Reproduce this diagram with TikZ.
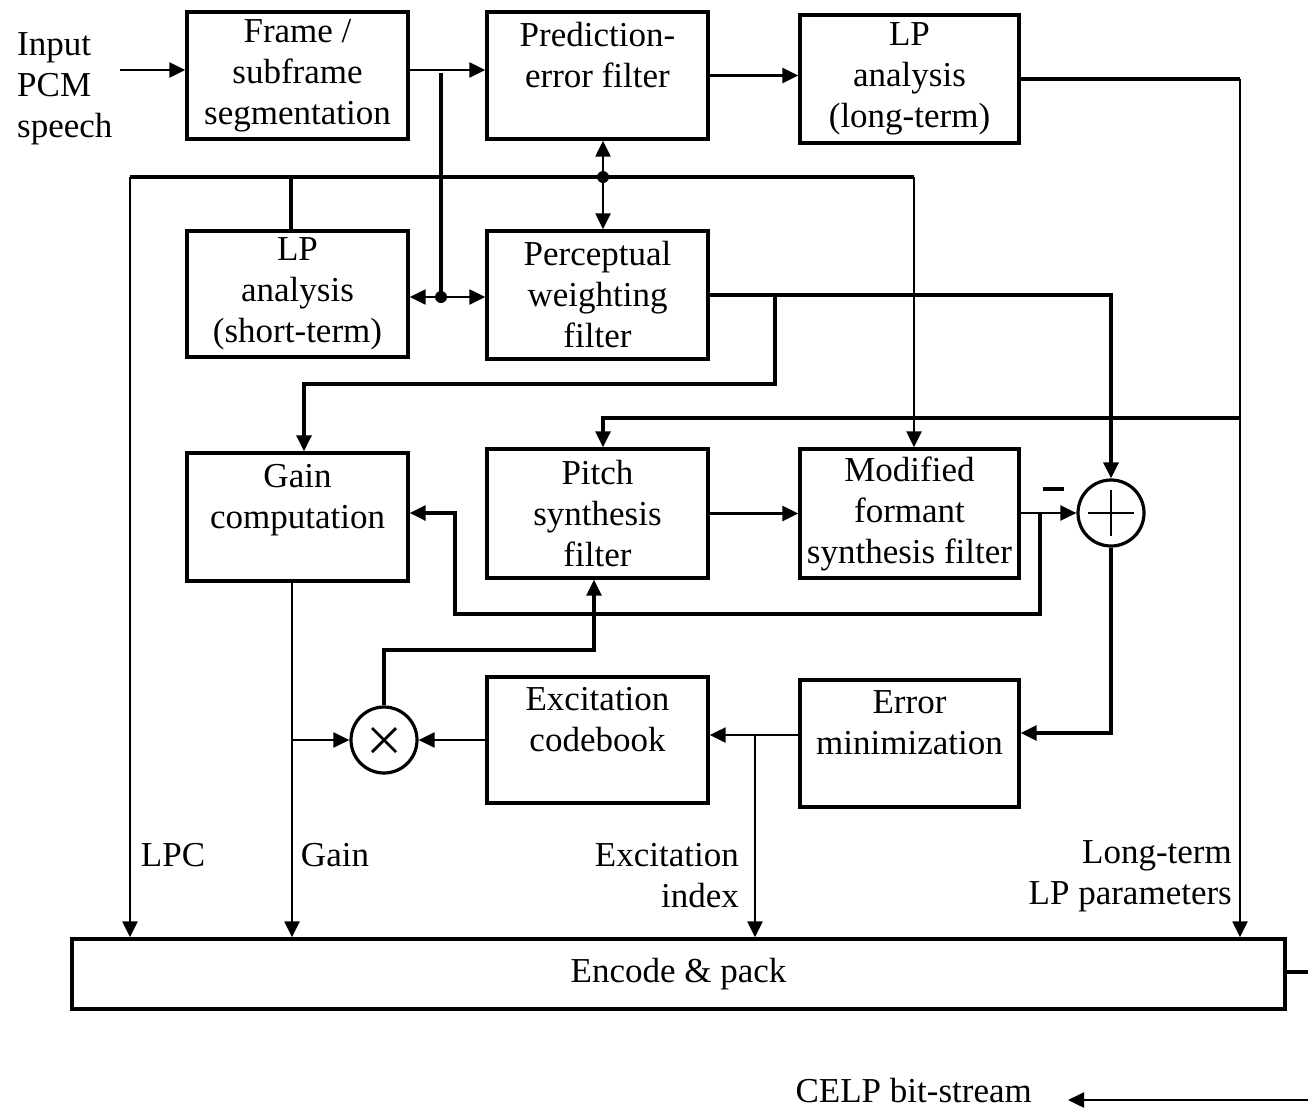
\documentclass[tikz,border=0pt]{standalone}
\usepackage{fontspec}
\setmainfont{Liberation Serif}
\usetikzlibrary{arrows.meta,calc}
\begin{document}
\begin{tikzpicture}[x=1pt,y=-1pt,
  blk/.style={draw,line width=3.4pt,inner sep=0pt,align=center,font=\fontsize{35}{41}\selectfont},
  txt/.style={inner sep=0pt,font=\fontsize{35}{41}\selectfont},
  ln/.style={line width=3.2pt},
  thinln/.style={line width=2.4pt},
  arr/.style={ln,-{Triangle[length=16pt,width=15pt]}},
  tarr/.style={thinln,-{Triangle[length=16pt,width=15pt]}},
  darr/.style={thinln,{Triangle[length=16pt,width=15pt]}-{Triangle[length=16pt,width=15pt]}},
  sumc/.style={draw,circle,line width=3.2pt,minimum size=66pt,inner sep=0pt},
  dot/.style={circle,fill,inner sep=0pt,minimum size=12pt}
]
\useasboundingbox (0,0) rectangle (1308,1109);

% blocks
\node[blk,minimum width=221pt,minimum height=127pt] (frame) at (297.5,75.5) {Frame /\\subframe\\segmentation};
\node[blk,minimum width=221pt,minimum height=127pt] (pef) at (597.5,75.5) {Prediction-\\error filter\\\mbox{}};
\node[blk,minimum width=219pt,minimum height=128pt] (lpl) at (909.5,79) {LP\\analysis\\(long-term)};
\node[blk,minimum width=221pt,minimum height=126pt] (lps) at (297.5,294) {LP\\analysis\\(short-term)};
\node[blk,minimum width=221pt,minimum height=128pt] (pwf) at (597.5,295) {Perceptual\\weighting\\filter};
\node[blk,minimum width=221pt,minimum height=128pt] (gain) at (297.5,517) {Gain\\computation\\\mbox{}};
\node[blk,minimum width=221pt,minimum height=129pt] (pitch) at (597.5,513.5) {Pitch\\synthesis\\filter};
\node[blk,minimum width=219pt,minimum height=129pt] (mfs) at (909.5,513.5) {Modified\\formant\\synthesis filter};
\node[blk,minimum width=221pt,minimum height=126pt] (exc) at (597.5,740) {Excitation\\codebook\\\mbox{}};
\node[blk,minimum width=219pt,minimum height=127pt] (err) at (909.5,743.5) {Error\\minimization\\\mbox{}};
\node[blk,minimum width=1213pt,minimum height=70pt] (enc) at (678.5,974) {Encode \& pack};

\node[sumc] (sum) at (1111,513) {};
\draw[line width=2.8pt] ([xshift=-23pt]sum.center) -- ([xshift=23pt]sum.center);
\draw[line width=2.8pt] ([yshift=-23pt]sum.center) -- ([yshift=23pt]sum.center);
\node[sumc] (mul) at (384,740) {};
\draw[line width=2.8pt] ([shift={(-12pt,-12pt)}]mul.center) -- ([shift={(12pt,12pt)}]mul.center);
\draw[line width=2.8pt] ([shift={(-12pt,12pt)}]mul.center) -- ([shift={(12pt,-12pt)}]mul.center);

% texts
\node[txt,align=left,anchor=west] (input) at (17,89) {Input\\PCM\\speech};
\node[txt] (lpc) at (173,855) {LPC};
\node[txt] (gainl) at (335,855) {Gain};
\node[txt,align=right,anchor=east] (excl) at (739,876) {Excitation\\index};
\node[txt,align=right,anchor=east] (ltl) at (1232,876) {Long-term\\LP parameters};
\node[txt,anchor=east] (celp) at (1032,1091) {CELP bit-stream};
\node[inner sep=0pt] (minus) at (1053,489) {\rule{21pt}{3.6pt}};

% coordinates
\coordinate (inA) at (120,70);
\coordinate (jA) at (441,70);
\coordinate (jB) at (441,297);
\coordinate (busL) at (130,177);
\coordinate (busS) at (291,177);
\coordinate (busD) at (603,177);
\coordinate (busR) at (914,177);
\coordinate (R) at (1240,84);
\coordinate (lA) at (1240,418);
\coordinate (lB) at (603,418);
\coordinate (pB) at (775,295);
\coordinate (pC) at (775,384);
\coordinate (pD) at (304,384);
\coordinate (mA) at (1040,513);
\coordinate (mB) at (1040,614);
\coordinate (mC) at (455,614);
\coordinate (mD) at (455,513);
\coordinate (sA) at (1111,733);
\coordinate (eA) at (755,735);
\coordinate (gA) at (292,740);
\coordinate (xA) at (384,650);
\coordinate (xB) at (594,650);
\coordinate (oR) at (1320,972);
\coordinate (bR) at (1320,1100);

% connectors
\draw[tarr] (inA) -- (frame.west|-inA);
\draw[tarr] (frame.east|-jA) -- (pef.west|-jA);
\draw[ln] ([yshift=-3pt]jA) -- (jB);
\node[dot] (jBd) at (jB) {};
\draw[darr] (lps.east|-jB) -- (pwf.west|-jB);
\draw[tarr] (pef.east) -- (pef.east-|lpl.west);
\draw[ln] (lpl.east) -- (lpl.east-|R);
\draw[tarr] (lpl.east-|R) -- (R|-enc.north);

\draw[ln] (busL) -- (busR);
\draw[tarr] (busL) -- (busL|-enc.north);
\draw[ln] (busS) -- (busS|-lps.north);
\draw[tarr] (busR) -- (busR|-mfs.north);
\node[dot] (busDd) at (busD) {};
\draw[darr] (busD|-pef.south) -- (busD|-pwf.north);

\draw[arr] (pwf.east) -- (pwf.east-|sum.north) -- (sum.north);
\draw[arr] (pB) -- (pC) -- (pD) -- (pD|-gain.north);
\draw[arr] (lA) -- (lB) -- (lB|-pitch.north);

\draw[tarr] (pitch.east) -- (mfs.west);
\draw[tarr] (mfs.east|-mA) -- (sum.west);
\draw[arr] (mA) -- (mB) -- (mC) -- (mD) -- (mD-|gain.east);
\draw[arr] (sum.south) -- (sA) -- (sA-|err.east);
\draw[tarr] (err.west|-eA) -- (exc.east|-eA);
\draw[tarr] (eA) -- (eA|-enc.north);
\draw[tarr] (exc.west|-mul.east) -- (mul.east);
\draw[tarr] (gain.south-|gA) -- (gA|-enc.north);
\draw[tarr] (gA) -- (mul.west);
\draw[arr] (mul.north) -- (xA) -- (xB) -- (xB|-pitch.south);
\draw[ln] (enc.east|-oR) -- (oR);
\draw[tarr] (bR) -- ([xshift=36pt]celp.east|-bR);
\end{tikzpicture}
\end{document}
